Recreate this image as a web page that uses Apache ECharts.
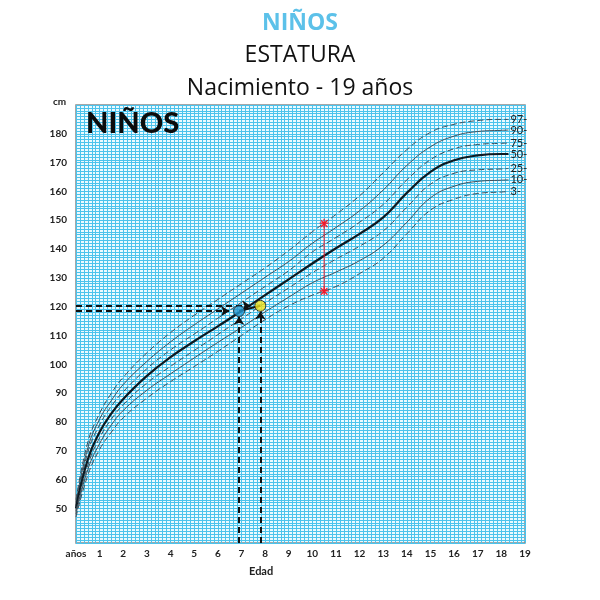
<!DOCTYPE html>
<html>
<head>
    <meta charset="utf-8">
    <title>Estatura niños</title>
    <script src="https://cdn.jsdelivr.net/npm/echarts@6/dist/echarts.min.js"></script>
    <style>
        html, body { margin: 0; padding: 0; background: #fff; }
        #chartmain { width: 600px; height: 600px; }
    </style>
</head>
<body>
<div id="chartmain"></div>
<script type="text/javascript">
    // edades (años) en las que se leen las curvas
    var ages = [0, 0.5, 1, 1.5, 2, 3, 4, 5, 6, 7, 8, 9, 10, 11, 12, 13, 14, 15, 16, 17, 18, 18.3];
    // percentiles de estatura (cm)
    var p97 = [53, 73, 83, 90, 95.5, 104, 111, 117, 122.5, 128, 133.5, 139.5, 146, 152, 158.5, 166.5, 174.5, 180.5, 183.3, 184.6, 185, 185];
    var p90 = [52, 71, 81, 87.5, 93, 101, 107.8, 113.7, 119.2, 124.7, 130.2, 135.7, 142, 147.5, 153.3, 160.5, 169, 175.5, 179.2, 180.8, 181.2, 181.3];
    var p75 = [51, 69.5, 79, 85.5, 90.5, 98.5, 105, 110.5, 116, 121.5, 127, 132.5, 139, 144, 149.3, 155.5, 164, 171, 174.8, 176.3, 176.7, 176.8];
    var p50 = [50, 67, 76.5, 83, 88, 96, 102.5, 108, 113.2, 118.5, 124, 129.5, 135, 140.3, 145.3, 151, 159.5, 166.8, 170.8, 172.5, 173, 173];
    var p25 = [49, 65, 74.5, 81, 86, 93.5, 99.3, 104.8, 110.3, 115.8, 121.3, 126.5, 131.8, 136.5, 141, 146.3, 154.5, 162.5, 166.3, 167.5, 167.8, 168];
    var p10 = [48, 63.5, 72.5, 79, 84, 91, 96.7, 102.2, 107.6, 112.8, 118.2, 123.3, 128.3, 132, 136, 141.3, 149.3, 157.8, 161.8, 163.5, 163.9, 164];
    var p3 = [47, 61.5, 70.5, 76.5, 81.5, 88.3, 94, 99.2, 104.5, 110, 115.5, 120.3, 124, 127, 131.5, 136.8, 145.3, 153.5, 157.3, 159.3, 159.8, 160];
    var percentileNames = ['97', '90', '75', '50', '25', '10', '3'];

    var xTickLabels = ['años', '1', '2', '3', '4', '5', '6', '7', '8', '9', '10', '11', '12', '13', '14', '15', '16', '17', '18', '19'];
    var yTickLabels = [50, 60, 70, 80, 90, 100, 110, 120, 130, 140, 150, 160, 170, 180];

    // niño medido dos veces
    var patientAges = [6.9, 7.8];
    var patientHeights = [118.5, 120.3];

    // rango marcado en rojo
    var rangeAges = [10.5, 10.5];
    var rangeHeights = [125.5, 149];

    var yMin = 38, yMax = 190;

    var curves = [p97, p90, p75, p50, p25, p10, p3];
    var dashTypes = [[6, 3], 'solid', [6, 3], 'solid', [6, 3], 'solid', [6, 3]];
    var widths = [1, 1, 1, 2.2, 1, 1, 1];

    var series = [];
    curves.forEach(function (vals, i) {
        series.push({
            name: percentileNames[i],
            type: 'line',
            smooth: 0.45,
            symbol: 'none',
            data: ages.map(function (a, j) { return [a, vals[j]]; }),
            lineStyle: { color: i === 3 ? '#0d1a22' : '#3e4e5a', width: widths[i], type: dashTypes[i] },
            endLabel: {
                show: true, formatter: percentileNames[i] + '-', distance: 2,
                fontSize: 11, color: '#222', fontFamily: 'Lato'
            },
            z: 3
        });
    });

    var arrowLines = [];
    patientAges.forEach(function (a, i) {
        var h = patientHeights[i];
        arrowLines.push([{ coord: [0, h] }, { coord: [a - 0.42, h] }]);
        arrowLines.push([{ coord: [a, yMin] }, { coord: [a, h - 2] }]);
    });

    series.push({
        type: 'scatter',
        data: patientAges.map(function (a, i) { return [a, patientHeights[i]]; }),
        symbolSize: 11,
        itemStyle: {
            borderColor: '#1b1b1b', borderWidth: 1,
            color: function (p) { return p.dataIndex === 0 ? '#2697cf' : '#f2e41a'; }
        },
        markLine: {
            silent: true,
            symbol: ['none', 'arrow'],
            symbolSize: 8,
            label: { show: false },
            lineStyle: { color: '#111', width: 2, type: [6, 4] },
            data: arrowLines
        },
        z: 6
    });

    // trazo entre las dos medidas
    series.push({
        type: 'line',
        symbol: 'none',
        data: patientAges.map(function (a, i) { return [a, patientHeights[i]]; }),
        lineStyle: { color: '#111', width: 2 },
        z: 5
    });

    series.push({
        type: 'line',
        data: rangeAges.map(function (a, i) { return [a, rangeHeights[i]]; }),
        symbol: 'path://M4.3,0 L5.7,0 L5.7,10 L4.3,10 Z M0.8,2.2 L1.8,1.2 L9.2,8.8 L8.2,9.8 Z M8.2,1.2 L9.2,2.2 L1.8,9.8 L0.8,8.8 Z M0,4.3 L10,4.3 L10,5.7 L0,5.7 Z',
        symbolSize: 9,
        showSymbol: true,
        itemStyle: { color: '#f2182a' },
        lineStyle: { color: '#f2182a', width: 1 },
        z: 6
    });

    var myChart = echarts.init(document.getElementById('chartmain'));
    myChart.setOption({
        animation: false,
        backgroundColor: '#fff',
        title: [
            { text: 'NIÑOS', left: 'center', top: 7, textStyle: { color: '#5cc1e9', fontSize: 23, fontWeight: 'bold', fontFamily: 'Open Sans' } },
            { text: 'ESTATURA', left: 'center', top: 39, textStyle: { color: '#111', fontSize: 23, fontWeight: 'normal', fontFamily: 'Open Sans' } },
            { text: 'Nacimiento - 19 años', left: 'center', top: 72, textStyle: { color: '#111', fontSize: 23, fontWeight: 'normal', fontFamily: 'Open Sans' } }
        ],
        grid: {
            left: 76, right: 75, top: 105, bottom: 57,
            show: true, backgroundColor: '#eafaff', borderColor: '#8a8a8a', borderWidth: 1.5
        },
        xAxis: {
            type: 'value', min: 0, max: 19, interval: 1,
            axisLine: { show: false }, axisTick: { show: false },
            axisLabel: {
                margin: 6, fontSize: 10, fontWeight: 'bold', color: '#222', fontFamily: 'Lato',
                showMaxLabel: true, showMinLabel: true,
                formatter: function (v) { return xTickLabels[Math.round(v)] || ''; }
            },
            splitLine: { show: true, lineStyle: { color: '#4cc3ec', width: 1 } },
            minorTick: { show: false, splitNumber: 6 },
            minorSplitLine: { show: true, lineStyle: { color: '#4cc3ec', width: 1 } }
        },
        yAxis: {
            type: 'value', min: yMin, max: yMax, interval: 1,
            axisLine: { show: false }, axisTick: { show: false },
            axisLabel: {
                margin: 9, fontSize: 10, fontWeight: 'bold', color: '#222', fontFamily: 'Lato',
                formatter: function (v) { return yTickLabels.indexOf(v) >= 0 ? String(v) : ''; }
            },
            splitLine: { show: true, lineStyle: { color: '#4cc3ec', width: 1 } }
        },
        graphic: [
            { type: 'text', left: 53, top: 97, style: { text: 'cm', fontSize: 10, fontWeight: 'bold', fill: '#222', fontFamily: 'Lato' } },
            { type: 'text', left: 249, top: 566, style: { text: 'Edad', fontSize: 11, fontWeight: 'bold', fill: '#222', fontFamily: 'Lato' } },
            { type: 'text', left: 86, top: 109, z: 10, style: { text: 'NIÑOS', fontSize: 29, fontWeight: 900, fill: '#0c0c0c', fontFamily: 'Lato' } }
        ],
        series: series
    });
</script>
</body>
</html>
